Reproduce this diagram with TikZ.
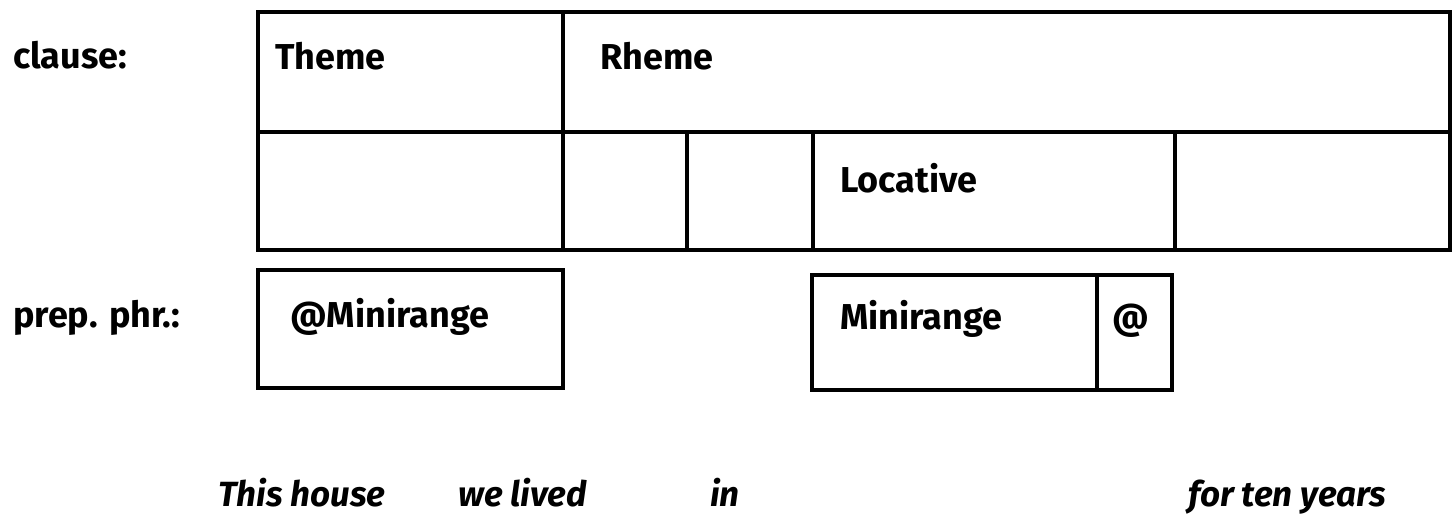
\documentclass[tikz,border=0pt]{standalone}
\usepackage{fontspec}
\setmainfont{Fira Sans}
\begin{document}
\begin{tikzpicture}[x=1pt,y=-1pt,
    lbl/.style={anchor=base west,inner sep=0pt,font=\fontsize{36}{42}\selectfont\bfseries},
    word/.style={anchor=base west,inner sep=0pt,font=\fontsize{35}{42}\selectfont\bfseries\itshape},
    box/.style={line width=3.5pt,line cap=rect}]

	\useasboundingbox (0,0) rectangle (1455,519);

            \draw[box] (258,12) rectangle (1450,250);
            \draw[box] (258,132) -- (1450,132);
            \draw[box] (563,12) -- (563,250);
            \foreach \x in {687,813,1175}{
              \draw[box] (\x,132) -- (\x,250);
            }

            \draw[box] (258,270) rectangle (563,388);
            \draw[box] (812,275) rectangle (1172,390);
            \draw[box] (1097,275) -- (1097,390);

            \node[lbl] (clause) at (13,69) {clause:};
            \node[lbl] (prep) at (13,327) {prep. phr.:};

            \node[lbl] (theme) at (275,70) {Theme};
            \node[lbl] (rheme) at (600,70) {Rheme};
            \node[lbl] (loc) at (840,192) {Locative};
            \node[lbl] (amini) at (290,327) {@Minirange};
            \node[lbl] (mini) at (840,329) {Minirange};
            \node[lbl] (at) at (1112,329) {@};

            \node[word] (house) at (218,506) {This house};
            \node[word] (lived) at (458,506) {we lived};
            \node[word] (in) at (710,506) {in};
            \node[word] (years) at (1188,506) {for ten years};

        \end{tikzpicture}
\end{document}
